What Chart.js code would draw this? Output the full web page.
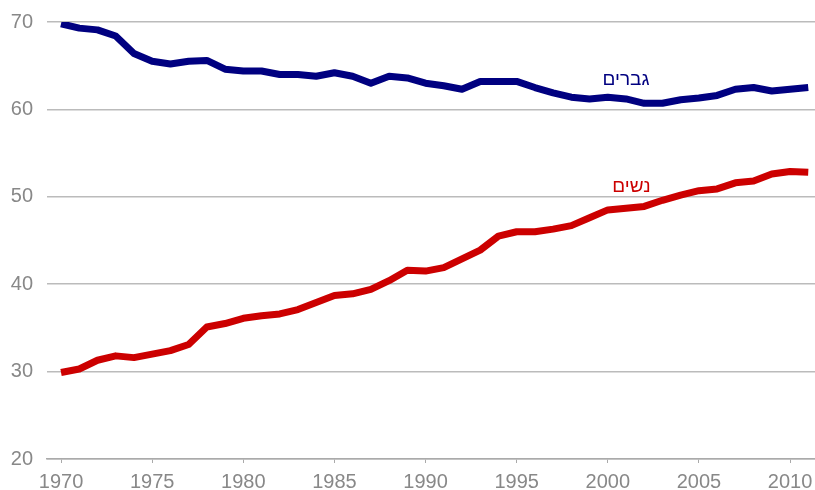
<!DOCTYPE html>
<html>
<head>
<meta charset="utf-8">
<script src="https://cdn.jsdelivr.net/npm/chart.js@4"></script>
<style>
  html, body { margin: 0; padding: 0; background: #fff; }
  #wrap { width: 815px; height: 490px; }
</style>
</head>
<body>
<div id="wrap"><canvas id="chart"></canvas></div>
<script>
const years = [];
for (let y = 1970; y <= 2011; y++) years.push(y);

const gvarim = [69.8, 69.3, 69.1, 68.4, 66.4, 65.5, 65.2, 65.5, 65.6, 64.6,
                64.4, 64.4, 64.0, 64.0, 63.8, 64.2, 63.8, 63.0, 63.8, 63.6,
                63.0, 62.7, 62.3, 63.2, 63.2, 63.2, 62.5, 61.9, 61.4, 61.2,
                61.4, 61.2, 60.7, 60.7, 61.1, 61.3, 61.6, 62.3, 62.5, 62.1,
                62.3, 62.5];

const nashim = [29.9, 30.3, 31.3, 31.8, 31.6, 32.0, 32.4, 33.1, 35.1, 35.5,
                36.1, 36.4, 36.6, 37.1, 37.9, 38.7, 38.9, 39.4, 40.4, 41.6,
                41.5, 41.9, 42.9, 43.9, 45.5, 46.0, 46.0, 46.3, 46.7, 47.6,
                48.5, 48.7, 48.9, 49.6, 50.2, 50.7, 50.9, 51.6, 51.8, 52.6,
                52.9, 52.8];

const xTicks = [1970, 1975, 1980, 1985, 1990, 1995, 2000, 2005, 2010];
const yTicks = [20, 30, 40, 50, 60, 70];

// תוויות הסדרות
const seriesLabels = [
    { text: 'גברים', x: 2001.0, y: 63.4, color: '#000080' },
    { text: 'נשים', x: 2001.3, y: 51.1, color: '#cc0000' }
];

const labelPlugin = {
    id: 'seriesLabels',
    afterDatasetsDraw(chart) {
        const ctx = chart.ctx;
        const xs = chart.scales.x, ys = chart.scales.y;
        ctx.save();
        ctx.font = '19px "Liberation Sans", Arial, sans-serif';
        ctx.textAlign = 'center';
        ctx.textBaseline = 'middle';
        seriesLabels.forEach(l => {
            ctx.fillStyle = l.color;
            ctx.fillText(l.text, xs.getPixelForValue(l.x), ys.getPixelForValue(l.y));
        });
        ctx.restore();
    }
};

function noPad(s) {
    s.paddingLeft = s.paddingRight = s.paddingTop = s.paddingBottom = 0;
}

new Chart(document.getElementById('chart'), {
    type: 'line',
    data: {
        datasets: [
            {
                label: 'גברים',
                data: years.map((y, i) => ({ x: y, y: gvarim[i] })),
                borderColor: '#000080',
                borderWidth: 7,
                pointRadius: 0,
                borderJoinStyle: 'round',
                tension: 0
            },
            {
                label: 'נשים',
                data: years.map((y, i) => ({ x: y, y: nashim[i] })),
                borderColor: '#cc0000',
                borderWidth: 7,
                pointRadius: 0,
                borderJoinStyle: 'round',
                tension: 0
            }
        ]
    },
    options: {
        responsive: true,
        maintainAspectRatio: false,
        animation: false,
        layout: { padding: { top: 22, left: 0, right: 0, bottom: 0 } },
        plugins: { legend: { display: false }, tooltip: { enabled: false } },
        scales: {
            x: {
                type: 'linear',
                min: 1969.23,
                max: 2011.37,
                afterBuildTicks: s => { s.ticks = xTicks.map(v => ({ value: v })); },
                afterFit: s => { s.height = 31; noPad(s); },
                grid: { drawOnChartArea: false, drawTicks: true, tickLength: 4, color: '#aaaaaa' },
                border: { color: '#aaaaaa', width: 1.5 },
                ticks: {
                    color: '#888888',
                    padding: 7,
                    maxRotation: 0,
                    font: { family: '"Liberation Sans", Arial, sans-serif', size: 20 },
                    callback: v => String(v)
                }
            },
            y: {
                min: 20,
                max: 70,
                afterBuildTicks: s => { s.ticks = yTicks.map(v => ({ value: v })); },
                afterFit: s => { s.width = 47; noPad(s); },
                grid: { color: '#bbbbbb', lineWidth: 1.5, drawTicks: false },
                border: { display: false },
                ticks: {
                    color: '#888888',
                    padding: 14,
                    font: { family: '"Liberation Sans", Arial, sans-serif', size: 20 }
                }
            }
        }
    },
    plugins: [labelPlugin]
});
</script>
</body>
</html>
